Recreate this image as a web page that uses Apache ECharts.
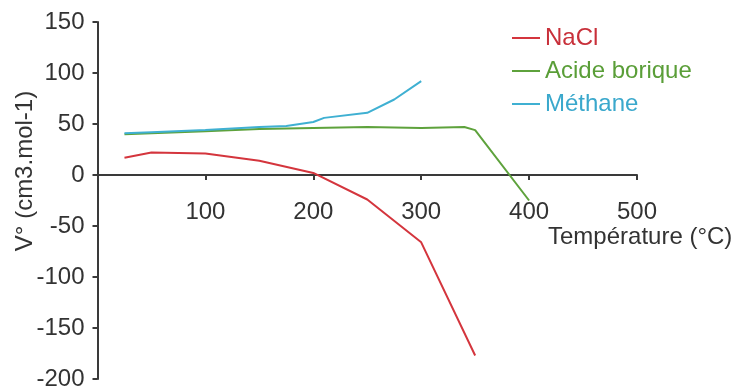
<!DOCTYPE html>
<html>
<head>
<meta charset="utf-8">
<script src="https://cdn.jsdelivr.net/npm/echarts@6/dist/echarts.min.js"></script>
<style>
  html, body { margin: 0; padding: 0; background: #fff; }
  #chart { width: 741px; height: 392px; }
</style>
</head>
<body>
<div id="chart"></div>
<script>
// Partial molar volume V° versus temperature for three solutes
const seriesNames = ['NaCl', 'Acide borique', 'Méthane'];

const tempNaCl = [25, 50, 100, 150, 200, 250, 300, 350];
const vNaCl = [17, 22, 21, 14, 2, -24, -66, -177];

const tempAcide = [25, 50, 100, 150, 200, 250, 300, 340, 350, 400];
const vAcide = [40, 41, 43, 45, 46, 47, 46, 47, 44, -25];

const tempMethane = [25, 50, 100, 150, 175, 200, 210, 250, 275, 300];
const vMethane = [41, 42, 44, 47, 48, 52, 56, 61, 74, 92];

const xTicks = [0, 100, 200, 300, 400, 500];
const yTicks = [-200, -150, -100, -50, 0, 50, 100, 150];

const xTitle = 'Température (°C)';
const yTitle = 'V° (cm3.mol-1)';

const colors = ['#d4353d', '#5ea23c', '#3fb0d2'];
const textColors = ['#c8303a', '#5a9e38', '#3aa8cc'];
const FONT = '"Liberation Sans", Arial, Helvetica, sans-serif';
const FS = 24;

const GRID_TOP = 22;
const GRID_BOTTOM = 13;
const CHART_H = 392;

const pairs = (xs, ys) => xs.map((x, i) => [x, ys[i]]);
const dataSets = [pairs(tempNaCl, vNaCl), pairs(tempAcide, vAcide), pairs(tempMethane, vMethane)];

// The horizontal axis sits on V = 0: shift it up from the grid bottom by the
// pixel distance between the y minimum and zero.
const yMin = yTicks[0];
const yMax = yTicks[yTicks.length - 1];
const plotH = CHART_H - GRID_TOP - GRID_BOTTOM;
const zeroOffset = -plotH * (0 - yMin) / (yMax - yMin);

const chart = echarts.init(document.getElementById('chart'), null, { renderer: 'canvas' });

chart.setOption({
  backgroundColor: '#ffffff',
  animation: false,
  textStyle: { fontFamily: FONT },
  grid: { left: 97.5, right: 104, top: GRID_TOP, bottom: GRID_BOTTOM, containLabel: false, outerBoundsMode: 'none' },
  legend: {
    orient: 'vertical',
    left: 507,
    top: 21,
    icon: 'rect',
    itemWidth: 28,
    itemHeight: 2,
    itemGap: 9,
    textStyle: { fontSize: FS, lineHeight: 24, fontFamily: FONT },
    data: seriesNames.map((n, i) => ({ name: n, textStyle: { color: textColors[i] } }))
  },
  xAxis: {
    type: 'value',
    min: xTicks[0],
    max: xTicks[xTicks.length - 1],
    interval: xTicks[1] - xTicks[0],
    offset: zeroOffset,
    axisLine: { show: true, onZero: false, lineStyle: { color: '#3a3a3a', width: 2 } },
    axisTick: { show: true, inside: false, length: 5, lineStyle: { color: '#3a3a3a', width: 2 } },
    axisLabel: {
      margin: 25,
      fontSize: FS,
      color: '#333',
      fontFamily: FONT,
      formatter: v => (v === 0 ? '' : String(v))
    },
    splitLine: { show: false }
  },
  yAxis: {
    type: 'value',
    min: yMin,
    max: yMax,
    interval: yTicks[1] - yTicks[0],
    axisLine: { show: true, lineStyle: { color: '#3a3a3a', width: 2 } },
    axisTick: { show: true, inside: false, length: 5, lineStyle: { color: '#3a3a3a', width: 2 } },
    axisLabel: { margin: 13, fontSize: FS, color: '#333', fontFamily: FONT },
    splitLine: { show: false }
  },
  graphic: [
    {
      type: 'text',
      x: 548,
      y: 237,
      style: {
        text: xTitle,
        fontSize: FS,
        fontFamily: FONT,
        fill: '#333',
        textAlign: 'left',
        textVerticalAlign: 'middle'
      }
    },
    {
      type: 'text',
      x: 25,
      y: 171,
      rotation: Math.PI / 2,
      style: {
        text: yTitle,
        fontSize: FS,
        fontFamily: FONT,
        fill: '#333',
        textAlign: 'center',
        textVerticalAlign: 'middle'
      }
    }
  ],
  series: seriesNames.map((n, i) => ({
    name: n,
    type: 'line',
    data: dataSets[i],
    symbol: 'none',
    smooth: false,
    color: colors[i],
    lineStyle: { width: 2, color: colors[i] },
    z: i === 2 ? 3 : 2
  }))
});
</script>
</body>
</html>
